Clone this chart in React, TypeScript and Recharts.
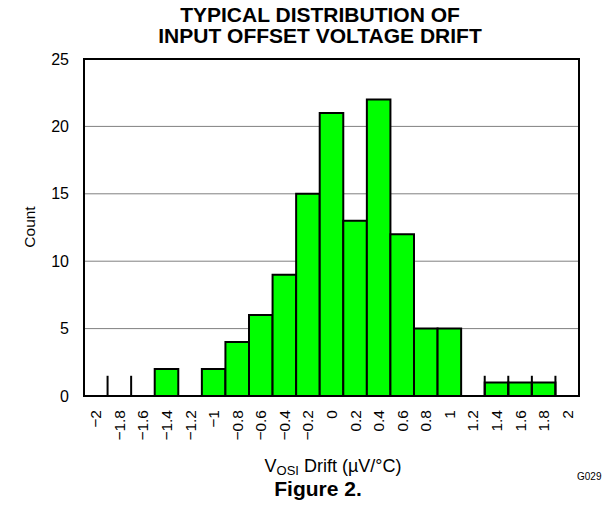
import React from "react";
import {
  ComposedChart, Bar, XAxis, YAxis, CartesianGrid, ReferenceLine, ReferenceArea,
} from "recharts";

// histogram bins (centre, µV/°C) and counts
const binCentres = [-1.4, -1.0, -0.8, -0.6, -0.4, -0.2, 0, 0.2, 0.4, 0.6, 0.8, 1.0, 1.4, 1.6, 1.8];
const counts = [2, 2, 4, 6, 9, 15, 21, 13, 22, 12, 5, 5, 1, 1, 1];
// short edge marks that stick up at the bottom of the plot
const stubEdges = [-1.9, -1.7, 1.3, 1.5, 1.7, 1.9];
const stubHeight = 1.5;

const xTicks = [-2, -1.8, -1.6, -1.4, -1.2, -1, -0.8, -0.6, -0.4, -0.2, 0, 0.2, 0.4, 0.6, 0.8, 1, 1.2, 1.4, 1.6, 1.8, 2];
const yTicks = [0, 5, 10, 15, 20, 25];

const data = binCentres.map((x, i) => ({ x, count: counts[i] }));

const FONT = "'Liberation Sans', Arial, sans-serif";
const fmt = (v: number) => {
  const s = String(Math.round(v * 10) / 10);
  return s.replace("-", "\u2212");
};

const XTick = (props: any) => {
  const { x, y, payload } = props;
  return (
    <text x={x} y={y} transform={`rotate(-90, ${x}, ${y})`} textAnchor="end"
          dominantBaseline="central" fontSize={15.5} fill="#000" fontFamily={FONT}>
      {fmt(payload.value)}
    </text>
  );
};

export default function App() {
  return (
    <div style={{ position: "relative", width: 613, height: 514, margin: -8, background: "#fff", fontFamily: FONT }}>
      <div style={{ position: "absolute", top: 4, left: 0, width: 640, textAlign: "center",
                    fontWeight: "bold", fontSize: 21, lineHeight: "21px" }}>
        TYPICAL DISTRIBUTION OF<br />INPUT OFFSET VOLTAGE DRIFT
      </div>
      <div style={{ position: "absolute", top: 0, left: 0 }}>
        <ComposedChart width={613} height={514} data={data}
                       margin={{ top: 59, right: 34, left: 54, bottom: 58 }}>
          <CartesianGrid vertical={false} stroke="#808080" strokeWidth={1} />
          <XAxis type="number" dataKey="x" domain={[-2.1, 2.1]} ticks={xTicks}
                 allowDataOverflow interval={0} height={60} tickLine={false}
                 axisLine={false} tick={<XTick />} tickMargin={8} />
          <YAxis type="number" domain={[0, 25]} ticks={yTicks} width={30}
                 tickLine={false} axisLine={false} tickMargin={9}
                 tick={{ fontSize: 16, fill: "#000", fontFamily: FONT }} />
          {stubEdges.map((e) => (
            <ReferenceLine key={e} segment={[{ x: e, y: 0 }, { x: e, y: stubHeight }]}
                           stroke="#000" strokeWidth={2} />
          ))}
          <Bar dataKey="count" isAnimationActive={false} barSize={23.57}
               fill="#00ff00" stroke="#000" strokeWidth={2} />
          <ReferenceArea x1={-2.1} x2={2.1} y1={0} y2={25} fill="none"
                         stroke="#000" strokeWidth={2} ifOverflow="visible" />
        </ComposedChart>
      </div>
      <div style={{ position: "absolute", left: 30, top: 227, transform: "translate(-50%, -50%) rotate(-90deg)",
                    fontSize: 15.5 }}>
        Count
      </div>
      <div style={{ position: "absolute", top: 457, left: 0, width: 666, height: 18, textAlign: "center",
                    fontSize: 18, lineHeight: "18px" }}>
        V<span style={{ fontSize: 13, position: "relative", top: 3 }}>OSI</span> Drift (µV/°C)
      </div>
      <div style={{ position: "absolute", top: 471, left: 577, fontSize: 10 }}>G029</div>
      <div style={{ position: "absolute", top: 478, left: 0, width: 636, textAlign: "center",
                    fontSize: 21, lineHeight: "21px", fontWeight: "bold" }}>
        Figure 2.
      </div>
    </div>
  );
}
